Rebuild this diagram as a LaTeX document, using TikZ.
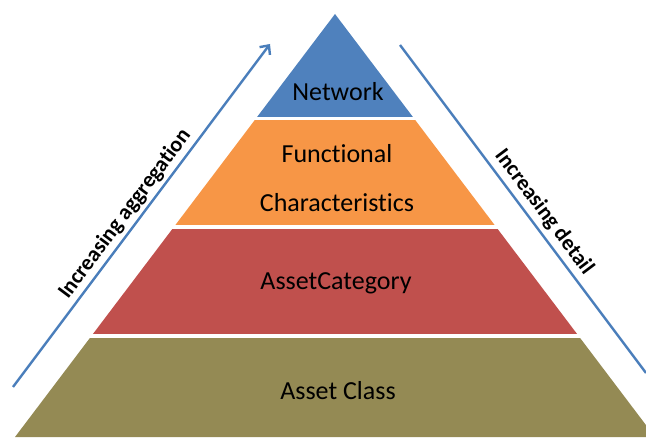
\documentclass[tikz,border=0pt]{standalone}
\usepackage{fontspec}
\setmainfont{Carlito}[Ligatures=NoCommon]
\usetikzlibrary{arrows.meta}
\definecolor{netblue}{HTML}{4F81BD}
\definecolor{funcorange}{HTML}{F79646}
\definecolor{catred}{HTML}{C0504D}
\definecolor{classolive}{HTML}{948A54}
\definecolor{trendblue}{HTML}{4A7EBB}
\tikzset{
  layertext/.style={font=\fontsize{26}{49}\selectfont, align=center, text=black},
  sidetext/.style={font=\fontsize{22}{26}\selectfont\bfseries, inner sep=1pt},
  trend/.style={draw=trendblue, line width=2.4pt},
  trendarrow/.style={trend, -{Straight Barb[length=7pt,width=13pt]}},
}

\begin{document}
\begin{tikzpicture}[x=1pt,y=1pt]
  \useasboundingbox (0,0) rectangle (646,437);
  \coordinate (apex) at (335,423);
  \coordinate (baseL) at (15,0);
  \coordinate (baseR) at (655,0);

  % layers, each one a band of the same triangle
  \foreach \lo/\hi/\col in {320/437/netblue, 212/316/funcorange, 103/207/catred, 0/98/classolive}{
    \begin{scope}
      \clip (0,\lo) rectangle (646,\hi);
      \fill[\col] (apex) -- (baseL) -- (baseR) -- cycle;
    \end{scope}
  }

  \node[layertext] (network) at (338,345) {Network};
  \node[layertext] (functional) at (337,259) {Functional\\Characteristics};
  \node[layertext] (category) at (336,154) {AssetCategory};
  \node[layertext] (class) at (338,46) {Asset Class};

  % side trends
  \coordinate (aggStart) at (13,50);
  \coordinate (aggEnd) at (270,393);
  \draw[trendarrow] (aggStart) -- (aggEnd);
  \node[sidetext, rotate=53.2] (aggregation) at (125,223) {Increasing aggregation};

  \coordinate (detStart) at (400,392);
  \coordinate (detEnd) at (646,64);
  \draw[trend] (detStart) -- (detEnd);
  \node[sidetext, rotate=-53.1] (detail) at (544,225) {Increasing detail};
\end{tikzpicture}
\end{document}
